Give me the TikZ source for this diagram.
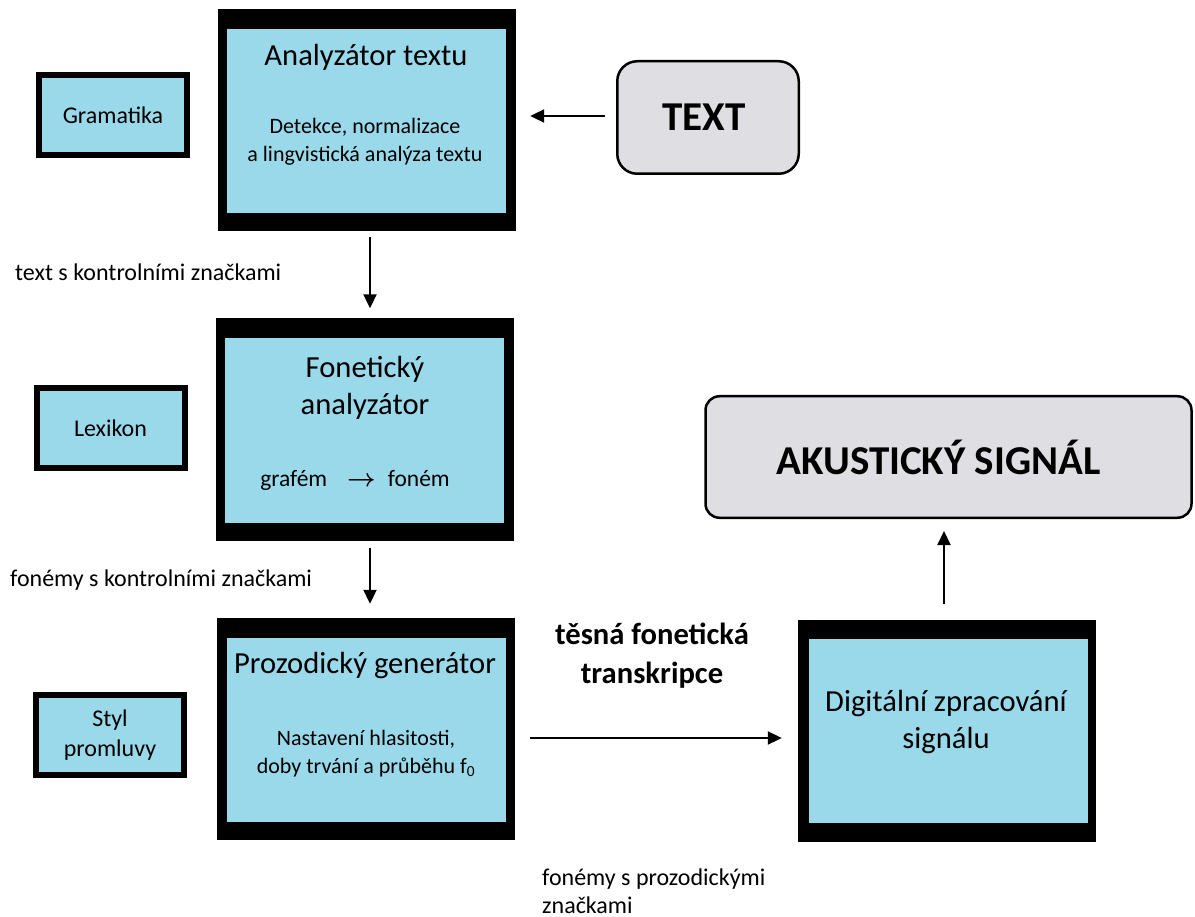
\documentclass[tikz,border=0pt]{standalone}
\usepackage{fontspec}
\setmainfont{Carlito}
\usetikzlibrary{arrows.meta}
\definecolor{boxblue}{HTML}{99D9EA}
\definecolor{boxgray}{HTML}{DEDEE3}
\begin{document}
\begin{tikzpicture}[x=1pt,y=-1pt,
 frame/.style={fill=black, inner sep=0, minimum width=298pt, minimum height=222pt},
 core/.style={fill=boxblue, inner sep=0, minimum width=279pt, minimum height=184pt},
 side/.style={draw=black, line width=6pt, fill=boxblue, inner sep=0, minimum width=148pt, minimum height=80pt, align=center, font=\fontsize{24}{30}\selectfont},
 term/.style={draw=black, line width=2.5pt, fill=boxgray, inner sep=0, font=\bfseries\fontsize{41}{48}\selectfont},
 title/.style={align=center, inner sep=0, font=\fontsize{30.6}{37}\selectfont},
 sub/.style={align=center, inner sep=0, font=\fontsize{22}{28}\selectfont},
 lbl/.style={anchor=west, align=left, inner sep=0, font=\fontsize{24}{28}\selectfont},
 arr/.style={-{Triangle[length=14pt,width=13pt]}, line width=2pt}
]
\useasboundingbox (0,0) rectangle (1195,917);

% main blocks
\node[frame] (b1) at (367,120) {};
\node[core] (b1i) at (366.5,121) {};
\node[title] (b1t) at (366,57) {Analyzátor textu};
\node[sub] (b1s) at (365,142) {Detekce, normalizace\\a lingvistická analýza textu};

\node[frame] (b2) at (365,429.5) {};
\node[core] (b2i) at (364.5,430.5) {};
\node[title] (b2t) at (365,388) {Fonetický\\analyzátor};
\node[inner sep=0, font=\fontsize{23.5}{28}\selectfont] (b2s) at (355,480) {grafém\hspace{20pt}{\boldmath$\rightarrow$}\hspace{12pt}foném};

\node[frame] (b3) at (366,729) {};
\node[core] (b3i) at (366,729.5) {};
\node[title] (b3t) at (365,666) {Prozodický generátor};
\node[sub] (b3s) at (366,754) {Nastavení hlasitosti,\\doby trvání a průběhu f\textsubscript{0}};

\node[frame] (b4) at (947,730.5) {};
\node[core] (b4i) at (948,730.5) {};
\node[title] (b4t) at (946,722) {Digitální zpracování\\signálu};

% side boxes
\node[side] (gr) at (113,115) {Gramatika};
\node[side] (lx) at (110.5,428) {Lexikon};
\node[side] (st) at (110,735) {Styl\\promluvy};

% terminals
\node[term, rounded corners=20pt, minimum width=181.5pt, minimum height=112.5pt] (tx) at (708,117.5) {TEXT\kern8pt};
\node[term, rounded corners=14pt, minimum width=486pt, minimum height=121.5pt] (ak) at (948.5,457) {AKUSTICKÝ SIGNÁL\kern20pt};

% connectors
\draw[arr, shorten <=11pt, shorten >=14pt] ([yshift=1.5pt]tx.west) -- ([yshift=1.5pt]tx.west -| b1.east);
\draw[arr, shorten <=6pt, shorten >=10pt] ([xshift=3pt]b1.south) -- ([xshift=3pt]b1.south |- b2.north);
\draw[arr, shorten <=7pt, shorten >=14pt] ([xshift=5pt]b2.south) -- ([xshift=5pt]b2.south |- b3.north);
\draw[arr, shorten <=15pt, shorten >=16pt] ([yshift=-9pt]b3.east) -- ([yshift=-9pt]b3.east -| b4.west);
\draw[arr, shorten <=15pt, shorten >=12pt] ([xshift=-3pt]b4.north) -- ([xshift=-3pt]b4.north |- ak.south);

% labels
\node[lbl] (l1) at (15,272) {text s kontrolními značkami};
\node[lbl] (l2) at (10,580) {fonémy s kontrolními značkami};
\node[align=center, inner sep=0, font=\bfseries\fontsize{30.6}{39}\selectfont] (l3) at (652,656) {těsná fonetická\\transkripce};
\node[lbl] (l4) at (542,891) {fonémy s prozodickými\\značkami};
\end{tikzpicture}
\end{document}
